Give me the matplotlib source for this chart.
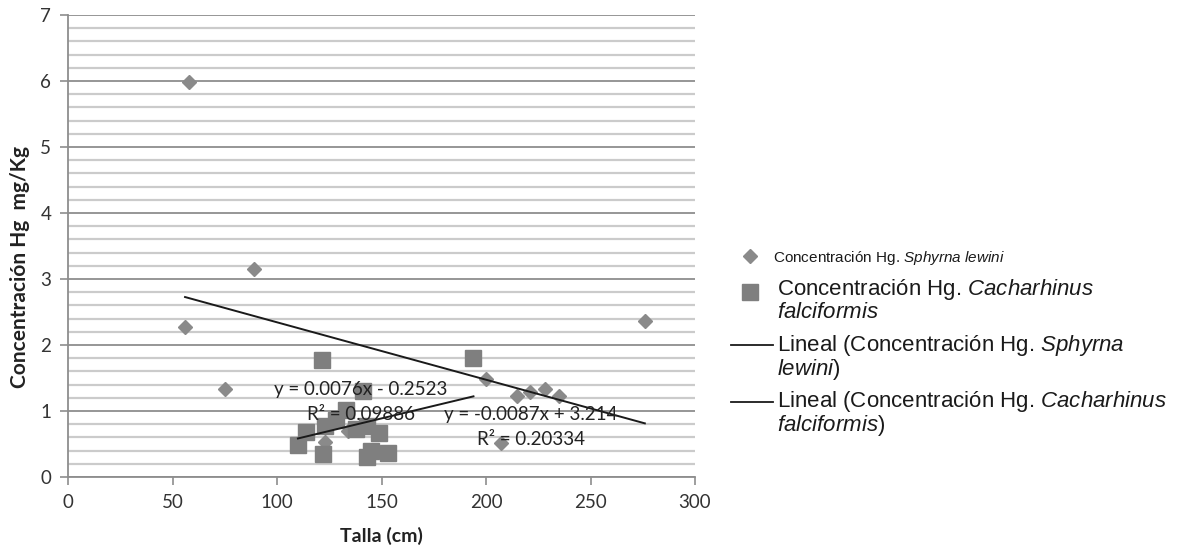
import numpy as np
import matplotlib.pyplot as plt
from matplotlib.lines import Line2D

plt.rcParams['font.family'] = ['Lato', 'DejaVu Sans']
plt.rcParams['mathtext.fontset'] = 'custom'
plt.rcParams['mathtext.rm'] = 'Liberation Sans'
plt.rcParams['mathtext.it'] = 'Liberation Sans:italic'

# Sphyrna lewini (diamonds)
talla_sl = [56, 58, 75, 89, 123, 134, 200, 207, 215, 221, 228, 235, 276]
hg_sl = [2.28, 5.98, 1.34, 3.15, 0.53, 0.70, 1.49, 0.51, 1.23, 1.29, 1.34, 1.22, 2.36]

# Cacharhinus falciformis (squares)
talla_cf = [110, 114, 121.5, 122, 123, 128, 133, 138, 141, 143, 143, 145, 149, 153, 194]
hg_cf = [0.48, 0.68, 1.78, 0.35, 0.78, 0.87, 1.02, 0.72, 1.30, 0.77, 0.31, 0.40, 0.66, 0.37, 1.81]

# trendline coefficients (slope, intercept) and R2 as printed on the chart
fit_sl = (-0.0087, 3.214)
fit_cf = (0.0076, -0.2523)
r2_sl = 0.20334
r2_cf = 0.09886

W, H = 1189, 554
fig = plt.figure(figsize=(W / 100, H / 100), dpi=100)
ax = fig.add_axes([68 / W, 77 / H, (695 - 68) / W, 462 / H])

# grid
ax.set_ylim(0, 7)
ax.set_xlim(0, 300)
ax.set_yticks(np.arange(0, 8, 1))
ax.set_yticks(np.arange(0, 7.01, 0.2), minor=True)
ax.set_xticks(np.arange(0, 301, 50))
ax.grid(axis='y', which='major', color='#8e8e8e', lw=1.3, zorder=0)
ax.grid(axis='y', which='minor', color='#cbcbcb', lw=1.6, zorder=0)
ax.tick_params(axis='y', which='minor', length=0)
ax.tick_params(which='major', color='#8e8e8e', length=6, width=1.2,
               labelsize=13.5, labelcolor='#333333', pad=6)
for s in ['top', 'right']:
    ax.spines[s].set_visible(False)
for s in ['left', 'bottom']:
    ax.spines[s].set_color('#8e8e8e')
    ax.spines[s].set_linewidth(1.3)
ax.set_axisbelow(True)

ax.plot(talla_sl, hg_sl, ls='none', marker='D', ms=7.5, color='#8a8a8a', zorder=3)
ax.plot(talla_cf, hg_cf, ls='none', marker='s', ms=12, color='#7f7f7f', zorder=3)

# trendlines
for tx, (m, b) in [(talla_sl, fit_sl), (talla_cf, fit_cf)]:
    xx = np.array([min(tx), max(tx)])
    ax.plot(xx, m * xx + b, color='#1a1a1a', lw=1.4, zorder=4)

eq_cf = f'y = {fit_cf[0]}x - {abs(fit_cf[1])}'
eq_sl = f'y = {fit_sl[0]}x + {fit_sl[1]}'
ax.text(140, 1.33, eq_cf, ha='center', va='center', fontsize=13.5, color='#222222', zorder=5)
ax.text(140, 0.95, f'R² = {r2_cf}', ha='center', va='center', fontsize=13.5, color='#222222', zorder=5)
ax.text(221.5, 0.95, eq_sl, ha='center', va='center', fontsize=13.5, color='#222222', zorder=5)
ax.text(221.5, 0.57, f'R² = {r2_sl}', ha='center', va='center', fontsize=13.5, color='#222222', zorder=5)

ax.set_ylabel('Concentración Hg  mg/Kg', fontsize=15, fontweight='bold', color='#222222')
ax.yaxis.set_label_coords(-0.061, 0.455)
ax.set_xlabel('Talla (cm)', fontsize=14, fontweight='bold', color='#222222', labelpad=12)

# legend drawn by hand on the right
def fx(x):
    return x / W

def fy(y):
    return 1 - y / H

leg_font = dict(family='Liberation Sans', color='#1a1a1a', va='center', ha='left')
fig.add_artist(Line2D([fx(750)], [fy(256)], marker='D', ms=7.5, color='#8a8a8a', ls='none'))
fig.text(fx(773), fy(258), r'Concentración Hg. $\mathit{Sphyrna\ lewini}$', fontsize=11, **leg_font)

fig.add_artist(Line2D([fx(750)], [fy(292)], marker='s', ms=11, color='#7f7f7f', ls='none'))
fig.text(fx(777), fy(289), r'Concentración Hg. $\mathit{Cacharhinus}$', fontsize=16, **leg_font)
fig.text(fx(777), fy(313), r'$\mathit{falciformis}$', fontsize=16, **leg_font)

fig.add_artist(Line2D([fx(731), fx(773)], [fy(345), fy(345)], color='#1a1a1a', lw=1.3))
fig.text(fx(777), fy(345), r'Lineal (Concentración Hg. $\mathit{Sphyrna}$', fontsize=16, **leg_font)
fig.text(fx(777), fy(369), r'$\mathit{lewini)}$', fontsize=16, **leg_font)

fig.add_artist(Line2D([fx(731), fx(773)], [fy(402), fy(402)], color='#1a1a1a', lw=1.3))
fig.text(fx(777), fy(402), r'Lineal (Concentración Hg. $\mathit{Cacharhinus}$', fontsize=16, **leg_font)
fig.text(fx(777), fy(426), r'$\mathit{falciformis)}$', fontsize=16, **leg_font)

fig.savefig('out.png', dpi=100)
